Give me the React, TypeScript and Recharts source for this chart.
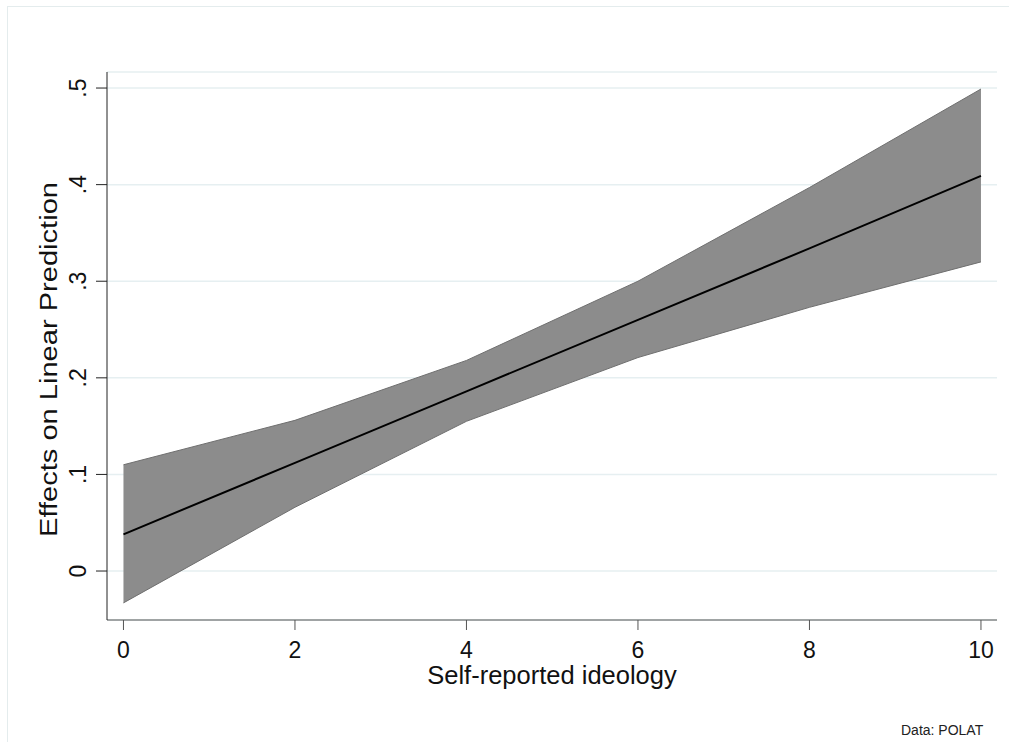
import { ComposedChart, Area, Line, XAxis, YAxis, CartesianGrid } from "recharts";

// Marginal effect of ideology with its 95% band
const ideology = [0, 2, 4, 6, 8, 10];
const fitted = [0.038, 0.112, 0.186, 0.26, 0.334, 0.409];
const lowerCI = [-0.033, 0.066, 0.155, 0.221, 0.273, 0.32];
const upperCI = [0.11, 0.156, 0.218, 0.3, 0.397, 0.499];

const xTicks = [0, 2, 4, 6, 8, 10];
const yTicks = [0, 0.1, 0.2, 0.3, 0.4, 0.5];

const rows = ideology.map((x, i) => ({
  x,
  fit: fitted[i],
  band: [lowerCI[i], upperCI[i]],
}));

const FONT = '"Liberation Sans", Arial, Helvetica, sans-serif';
const INK = "#111";

// Stata-style labels: "0", ".1", ".2" ...
const fmtY = (v: number) => (v === 0 ? "0" : String(v).replace(/^0/, ""));

function YTick({ x, y, payload }: any) {
  return (
    <text
      x={x}
      y={y}
      transform={`rotate(-90, ${x}, ${y})`}
      textAnchor="middle"
      fontSize={23}
      fontFamily={FONT}
      fill={INK}
    >
      {fmtY(payload.value)}
    </text>
  );
}

export default function App() {
  return (
    <div style={{ position: "fixed", left: 0, top: 0, width: 1009, height: 742, overflow: "hidden", background: "#fff" }}>
      <div
        style={{
          position: "absolute",
          left: 7,
          top: 6,
          width: 1030,
          height: 780,
          border: "1px solid #e4eced",
        }}
      />
      <div style={{ position: "absolute", left: 0, top: 0 }}>
        <ComposedChart width={1009} height={742} data={rows} margin={{ top: 72, right: 12, bottom: 62, left: 0 }}>
          <CartesianGrid horizontal vertical={false} stroke="#e6eff1" strokeWidth={1.5} />
          <XAxis
            type="number"
            dataKey="x"
            domain={[-0.192, 10.187]}
            ticks={xTicks}
            allowDataOverflow
            height={60}
            stroke="#555"
            tickSize={10}
            tickMargin={12}
            tick={{ fontSize: 23, fill: INK, fontFamily: FONT }}
            label={{
              content: ({ viewBox }: any) => (
                <text
                  x={viewBox.x + viewBox.width / 2}
                  y={684}
                  textAnchor="middle"
                  fontSize={25.5}
                  fontFamily={FONT}
                  fill={INK}
                >
                  Self-reported ideology
                </text>
              ),
            }}
          />
          <YAxis
            type="number"
            domain={[-0.0507, 0.5166]}
            ticks={yTicks}
            allowDataOverflow
            width={107}
            stroke="#222"
            tickSize={11}
            tickMargin={10}
            tick={<YTick />}
            label={{
              content: () => (
                <text
                  x={57}
                  y={537}
                  transform="rotate(-90, 57, 537)"
                  textAnchor="start"
                  fontSize={23}
                  textLength={355}
                  lengthAdjust="spacingAndGlyphs"
                  fontFamily={FONT}
                  fill={INK}
                >
                  Effects on Linear Prediction
                </text>
              ),
            }}
          />
          <Area
            type="linear"
            dataKey="band"
            fill="#8c8c8c"
            fillOpacity={1}
            stroke="#6f6f6f"
            strokeWidth={1}
            isAnimationActive={false}
          />
          <Line
            type="linear"
            dataKey="fit"
            stroke="#000"
            strokeWidth={2}
            dot={false}
            isAnimationActive={false}
          />
        </ComposedChart>
      </div>
      <div
        style={{
          position: "absolute",
          left: 901,
          top: 722,
          fontSize: 14,
          fontFamily: FONT,
          color: "#222",
          whiteSpace: "nowrap",
        }}
      >
        Data: POLAT
      </div>
    </div>
  );
}
